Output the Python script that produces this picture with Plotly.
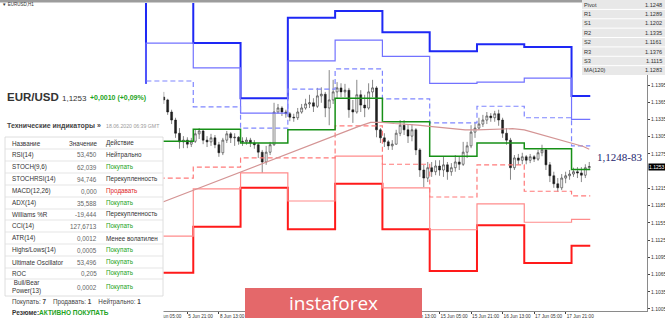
import plotly.graph_objects as go

W, H = 665, 320
ML, MR, MT, MB = 0, 18, 3, 9
PW, PH = W - ML - MR, H - MT - MB


def px(x):
    return (x - ML) / PW


def py(y):
    return 1 - (y - MT) / PH


FONT = "Liberation Sans, Arial, sans-serif"

# ---------------- data: EUR/USD, 2-hour bars starting 5 Jun 00:00 ----------------
bar_hour = list(range(1, 226, 2))
opens = [1.1383, 1.1379, 1.1376, 1.1378, 1.1374, 1.1369, 1.1348, 1.1334, 1.1311, 1.1296, 1.1299, 1.1292,
         1.1297, 1.1310, 1.1315, 1.1299, 1.1296, 1.1303, 1.1291, 1.1277, 1.1299, 1.1310, 1.1303, 1.1304,
         1.1297, 1.1296, 1.1299, 1.1294, 1.1291, 1.1278, 1.1261, 1.1278, 1.1291, 1.1348, 1.1355, 1.1348,
         1.1345, 1.1339, 1.1338, 1.1348, 1.1355, 1.1362, 1.1364, 1.1358, 1.1376, 1.1379, 1.1355, 1.1369,
         1.1383, 1.1390, 1.1383, 1.1386, 1.1352, 1.1348, 1.1378, 1.1360, 1.1355, 1.1383, 1.1390, 1.1317,
         1.1303, 1.1296, 1.1289, 1.1292, 1.1311, 1.1325, 1.1317, 1.1306, 1.1317, 1.1282, 1.1247, 1.1233,
         1.1251, 1.1244, 1.1254, 1.1247, 1.1256, 1.1244, 1.1251, 1.1261, 1.1257, 1.1278, 1.1289, 1.1313,
         1.1320, 1.1327, 1.1334, 1.1341, 1.1338, 1.1345, 1.1334, 1.1311, 1.1299, 1.1251, 1.1268, 1.1264,
         1.1270, 1.1264, 1.1270, 1.1266, 1.1277, 1.1282, 1.1256, 1.1237, 1.1223, 1.1216, 1.1233, 1.1237,
         1.1240, 1.1244, 1.1242, 1.1238, 1.1251]
highs = [1.1390, 1.1385, 1.1383, 1.1383, 1.1383, 1.1371, 1.1352, 1.1338, 1.1320, 1.1306, 1.1304, 1.1303,
         1.1317, 1.1320, 1.1317, 1.1306, 1.1310, 1.1308, 1.1296, 1.1303, 1.1315, 1.1313, 1.1311, 1.1306,
         1.1304, 1.1304, 1.1303, 1.1299, 1.1294, 1.1282, 1.1289, 1.1296, 1.1364, 1.1362, 1.1358, 1.1352,
         1.1348, 1.1345, 1.1355, 1.1362, 1.1371, 1.1378, 1.1372, 1.1390, 1.1391, 1.1383, 1.1421, 1.1404,
         1.1400, 1.1398, 1.1397, 1.1390, 1.1369, 1.1404, 1.1386, 1.1378, 1.1398, 1.1404, 1.1393, 1.1320,
         1.1311, 1.1299, 1.1299, 1.1317, 1.1334, 1.1334, 1.1327, 1.1327, 1.1320, 1.1285, 1.1256, 1.1261,
         1.1261, 1.1264, 1.1264, 1.1270, 1.1261, 1.1259, 1.1273, 1.1271, 1.1296, 1.1296, 1.1325, 1.1331,
         1.1338, 1.1343, 1.1348, 1.1346, 1.1350, 1.1352, 1.1338, 1.1320, 1.1303, 1.1273, 1.1275, 1.1277,
         1.1273, 1.1275, 1.1273, 1.1282, 1.1291, 1.1285, 1.1261, 1.1244, 1.1233, 1.1240, 1.1244, 1.1247,
         1.1251, 1.1252, 1.1252, 1.1257, 1.1261]
lows = [1.1374, 1.1371, 1.1369, 1.1367, 1.1362, 1.1343, 1.1327, 1.1303, 1.1284, 1.1285, 1.1285, 1.1287,
        1.1294, 1.1301, 1.1292, 1.1287, 1.1289, 1.1285, 1.1270, 1.1273, 1.1294, 1.1294, 1.1289, 1.1291,
        1.1289, 1.1291, 1.1287, 1.1284, 1.1268, 1.1242, 1.1256, 1.1273, 1.1289, 1.1345, 1.1341, 1.1338,
        1.1332, 1.1331, 1.1334, 1.1345, 1.1352, 1.1355, 1.1348, 1.1355, 1.1364, 1.1339, 1.1325, 1.1362,
        1.1372, 1.1374, 1.1374, 1.1338, 1.1329, 1.1345, 1.1348, 1.1339, 1.1352, 1.1374, 1.1304, 1.1294,
        1.1287, 1.1282, 1.1282, 1.1291, 1.1306, 1.1308, 1.1294, 1.1297, 1.1273, 1.1235, 1.1217, 1.1226,
        1.1235, 1.1238, 1.1237, 1.1235, 1.1230, 1.1237, 1.1244, 1.1247, 1.1254, 1.1268, 1.1285, 1.1303,
        1.1317, 1.1322, 1.1327, 1.1331, 1.1331, 1.1324, 1.1303, 1.1291, 1.1230, 1.1247, 1.1256, 1.1257,
        1.1257, 1.1259, 1.1261, 1.1263, 1.1271, 1.1247, 1.1226, 1.1216, 1.1209, 1.1212, 1.1224, 1.1230,
        1.1235, 1.1233, 1.1226, 1.1233, 1.1247]
closes = [1.1379, 1.1376, 1.1378, 1.1374, 1.1369, 1.1348, 1.1334, 1.1311, 1.1296, 1.1299, 1.1292, 1.1297,
          1.1310, 1.1315, 1.1299, 1.1296, 1.1303, 1.1291, 1.1277, 1.1299, 1.1310, 1.1303, 1.1304, 1.1297,
          1.1296, 1.1299, 1.1294, 1.1291, 1.1278, 1.1261, 1.1278, 1.1291, 1.1348, 1.1355, 1.1348, 1.1345,
          1.1339, 1.1338, 1.1348, 1.1355, 1.1362, 1.1364, 1.1358, 1.1376, 1.1379, 1.1355, 1.1369, 1.1383,
          1.1390, 1.1383, 1.1386, 1.1352, 1.1348, 1.1378, 1.1360, 1.1355, 1.1383, 1.1390, 1.1317, 1.1303,
          1.1296, 1.1289, 1.1292, 1.1311, 1.1325, 1.1317, 1.1306, 1.1317, 1.1282, 1.1247, 1.1233, 1.1251,
          1.1244, 1.1254, 1.1247, 1.1256, 1.1244, 1.1251, 1.1261, 1.1257, 1.1278, 1.1289, 1.1313, 1.1320,
          1.1327, 1.1334, 1.1341, 1.1338, 1.1345, 1.1334, 1.1311, 1.1299, 1.1251, 1.1268, 1.1264, 1.1270,
          1.1264, 1.1270, 1.1266, 1.1277, 1.1282, 1.1256, 1.1237, 1.1223, 1.1216, 1.1233, 1.1237, 1.1240,
          1.1244, 1.1242, 1.1238, 1.1251, 1.1253]

# daily pivot levels (day starts in hours; 4 Jun .. 18 Jun)
day_start = [-24, 0, 24, 48, 72, 96, 120, 144, 168, 192, 216]
level_end = 225.5
R3 = [1.1385, 1.1573, 1.1468, 1.1372, 1.1512, 1.1524, 1.1487, 1.1454, 1.1466, 1.1461, 1.1376]
R2 = [1.1330, 1.1468, 1.1425, 1.1346, 1.1437, 1.1473, 1.1445, 1.1398, 1.1400, 1.1407, 1.1335]
R1 = [1.1290, 1.1402, 1.1357, 1.1320, 1.1388, 1.1423, 1.1371, 1.1329, 1.1358, 1.1338, 1.1289]
PP = [1.1240, 1.1297, 1.1318, 1.1294, 1.1317, 1.1372, 1.1331, 1.1271, 1.1294, 1.1284, 1.1248]
S1 = [1.1200, 1.1233, 1.1252, 1.1268, 1.1268, 1.1324, 1.1257, 1.1200, 1.1256, 1.1210, 1.1202]
S2 = [1.1150, 1.1132, 1.1214, 1.1242, 1.1193, 1.1271, 1.1216, 1.1143, 1.1188, 1.1156, 1.1161]
S3 = [1.1110, 1.1068, 1.1148, 1.1216, 1.1144, 1.1223, 1.1144, 1.1071, 1.1151, 1.1085, 1.1115]

# MA(120)
ma_hour = [0, 6, 12, 18, 24, 30, 36, 42, 48, 54, 60, 66, 72, 78, 84, 90, 96, 102, 108, 114, 120, 126,
           132, 138, 144, 150, 156, 162, 168, 174, 180, 186, 192, 198, 204, 210, 216, 222, 225]
ma_vals = [1.1180, 1.1188, 1.1196, 1.1204, 1.1212, 1.1220, 1.1228, 1.1235, 1.1243, 1.1251, 1.1259, 1.1267,
           1.1275, 1.1283, 1.1291, 1.1299, 1.1307, 1.1315, 1.1323, 1.1330, 1.1330, 1.1328, 1.1327, 1.1325,
           1.1323, 1.1321, 1.1319, 1.1317, 1.1317, 1.1318, 1.1319, 1.1319, 1.1317, 1.1311, 1.1306, 1.1300,
           1.1294, 1.1288, 1.1283]

# visible time-axis labels (the others are hidden behind the overlays)
time_tick_hours = [5, 21, 37, 133, 149, 165, 181, 197, 213]
time_tick_labels = ["5 Jun 05:00", "5 Jun 21:00", "8 Jun 13:00", "12 Jun 13:00",
                    "15 Jun 05:00", "15 Jun 21:00", "16 Jun 13:00", "17 Jun 05:00", "17 Jun 21:00"]
# visible price-axis labels (1.1245 is covered by the current-price box)
price_ticks = [1.1005, 1.1035, 1.1065, 1.1095, 1.1125, 1.1155, 1.1185, 1.1215, 1.1275, 1.1305,
               1.1335, 1.1365, 1.1395]
last_price = 1.1253

# indicator panel
ind_names = ["RSI(14)", "STOCH(9,6)", "STOCHRSI(14)", "MACD(12,26)", "ADX(14)", "Williams %R", "CCI(14)",
             "ATR(14)", "Highs/Lows(14)", "Ultimate Oscillator", "ROC", "Bull/Bear<br>Power(13)"]
ind_values = ["53,450", "62,039", "94,746", "0,000", "35,588", "-19,444", "127,6713", "0,0012", "0,0005",
              "53,496", "0,205", "0,0002"]
ind_actions = ["Нейтрально", "Покупать", "Перекупленность", "Продавать", "Покупать", "Перекупленность",
               "Покупать", "Менее волатилен", "Покупать", "Покупать", "Покупать", "Покупать"]
pivot_labels = ["Pivot", "R1", "S1", "R2", "S2", "R3", "S3", "MA(120)"]

# ---------------- figure ----------------
fig = go.Figure()

fig.add_trace(go.Candlestick(
    x=bar_hour, open=opens, high=highs, low=lows, close=closes,
    increasing=dict(line=dict(color="#111111", width=0.5), fillcolor="#ffffff"),
    decreasing=dict(line=dict(color="#111111", width=0.5), fillcolor="#222222"),
    whiskerwidth=0, hoverinfo="skip", showlegend=False))


def level(vals, color, width, dash="solid"):
    xs = day_start + [level_end]
    ys = vals + [vals[-1]]
    fig.add_trace(go.Scatter(x=xs, y=ys, mode="lines", line=dict(color=color, width=width, dash=dash, shape="hv"),
                             hoverinfo="skip", showlegend=False))


level(S3, "#ff1a1a", 2)
level(S2, "#ff8c8c", 1.2)
level(S1, "#ff7a7a", 1.2, "5px,3px")
level(R3, "#1e28f5", 2)
level(R2, "#7272ff", 1.2)
level(R1, "#7f86ff", 1.2, "5px,3px")
level(PP, "#179017", 1.5)

fig.add_trace(go.Scatter(x=ma_hour, y=ma_vals, mode="lines", line=dict(color="#d49494", width=1.2),
                         hoverinfo="skip", showlegend=False))

shapes = []
anns = []


def rect(x0, y0, x1, y1, fill, line_color=None, lw=0):
    shapes.append(dict(type="rect", xref="paper", yref="paper", x0=px(x0), x1=px(x1), y0=py(y1), y1=py(y0),
                       fillcolor=fill, line=dict(color=line_color or fill, width=lw), layer="above"))


def hline(x0, x1, y, color, lw=1):
    shapes.append(dict(type="line", xref="paper", yref="paper", x0=px(x0), x1=px(x1), y0=py(y), y1=py(y),
                       line=dict(color=color, width=lw), layer="above"))


def txt(x, y, s, size, color="#333333", bold=False, anchor="left", family=FONT):
    if bold:
        s = "<b>" + s + "</b>"
    anns.append(dict(x=px(x), y=py(y), xref="paper", yref="paper", text=s, showarrow=False, xanchor=anchor,
                     yanchor="middle", font=dict(size=size, color=color, family=family), borderpad=0))


# top window bar
rect(0, 0, 665, 2.5, "#9c9c9c")
txt(1, 5, "▼ EURUSD,H1", 4.5, "#333333")

# left indicator panel
rect(0, 84, 163.5, 320, "#ffffff")
txt(6, 97, "EUR/USD", 11.5, "#333333", bold=True)
txt(61, 98, "1,1253", 8, "#333333")
txt(89, 98, "+0,0010 (+0,09%)", 7, "#22a322", bold=True)
txt(6, 126, "Технические индикаторы »", 7, "#444444", bold=True)
txt(105, 126, "18.06.2020 06:39 GMT", 5.2, "#9a9a9a")

rect(5, 137, 163, 296, "rgba(0,0,0,0)", "#d6d6d6", 0.8)
row_y = [155, 167, 179, 191, 203, 214, 226, 238, 250, 262, 273, 287]
seps = [149, 161, 173, 185, 197, 209, 220, 232, 244, 256, 268, 279]
for s in seps:
    hline(5, 163, s, "#dedede", 0.8)
txt(11, 143, "Название", 6.3, "#333333")
txt(98, 143, "Значение", 6.3, "#333333", anchor="right")
txt(105, 143, "Действие", 6.3, "#333333")
act_color = {"Покупать": "#22a322", "Продавать": "#e02828"}
for yv, n, v, a in zip(row_y, ind_names, ind_values, ind_actions):
    txt(11, yv, n, 6.3, "#333333")
    txt(98, yv, v, 6.3, "#666666", anchor="right")
    txt(105, yv, a, 6.3, act_color.get(a, "#333333"))
txt(11, 302, "Покупать: <b>7</b>    Продавать: <b>1</b>    Нейтрально: <b>1</b>", 6.3, "#444444")
txt(11, 312, "<b>Резюме:</b><b><span style='color:#22a322'>АКТИВНО ПОКУПАТЬ</span></b>", 6.5, "#333333")

# pivot table (top right)
rect(582, 0, 665, 75, "#e8e8e8")
row_h = 75 / 8
for i in range(1, 8):
    hline(582, 665, i * row_h, "#ffffff", 1)
pivot_values = [PP[-1], R1[-1], S1[-1], R2[-1], S2[-1], R3[-1], S3[-1], ma_vals[-1]]
for i, (lab, val) in enumerate(zip(pivot_labels, pivot_values)):
    yc = (i + 0.5) * row_h
    txt(583, yc, lab, 5.6, "#333333")
    txt(663, yc, "%.4f" % val, 5.6, "#333333", anchor="right")

# range annotation
txt(596, 157, "1,1248-83", 11, "#1e1e6e", family="Liberation Serif, Times New Roman, serif")

# current price label on axis
anns.append(dict(x=px(648), y=last_price, xref="paper", yref="y", text="%.4f" % last_price, showarrow=False,
                 xanchor="left", yanchor="middle", bgcolor="#000000", borderpad=0,
                 font=dict(size=5, color="#ffffff", family=FONT)))

# instaforex logo
shapes.append(dict(type="rect", xref="paper", yref="paper", x0=px(245), x1=px(422), y0=py(318), y1=py(288),
                   fillcolor="#e4686a", line=dict(color="#e4686a", width=0), layer="above"))
txt(333, 302.5, "instaforex", 19, "#ffffff", anchor="center", family="Open Sans, Liberation Sans, sans-serif")

fig.update_layout(
    width=W, height=H, autosize=False,
    margin=dict(l=ML, r=MR, t=MT, b=MB, pad=0, autoexpand=False),
    paper_bgcolor="#ffffff", plot_bgcolor="#ffffff",
    showlegend=False,
    shapes=shapes, annotations=anns,
    xaxis=dict(range=[-74.1, 254.3], tickvals=time_tick_hours, ticktext=time_tick_labels, ticks="outside",
               ticklen=2, tickcolor="#444444", ticklabelposition="outside right", tickangle=0,
               automargin=False,
               tickfont=dict(size=4.7, color="#333333", family=FONT), showgrid=False, zeroline=False,
               showline=True, linecolor="#8a8a8a", linewidth=1, rangeslider=dict(visible=False),
               fixedrange=True),
    yaxis=dict(range=[1.10015, 1.15378], side="right", tickvals=price_ticks, automargin=False,
               ticktext=["%.4f" % t for t in price_ticks], ticks="outside", ticklen=2, tickcolor="#444444",
               tickfont=dict(size=5, color="#333333", family=FONT), showgrid=False, zeroline=False,
               showline=True, linecolor="#8a8a8a", linewidth=1, fixedrange=True),
)

fig.write_html("out.html")
